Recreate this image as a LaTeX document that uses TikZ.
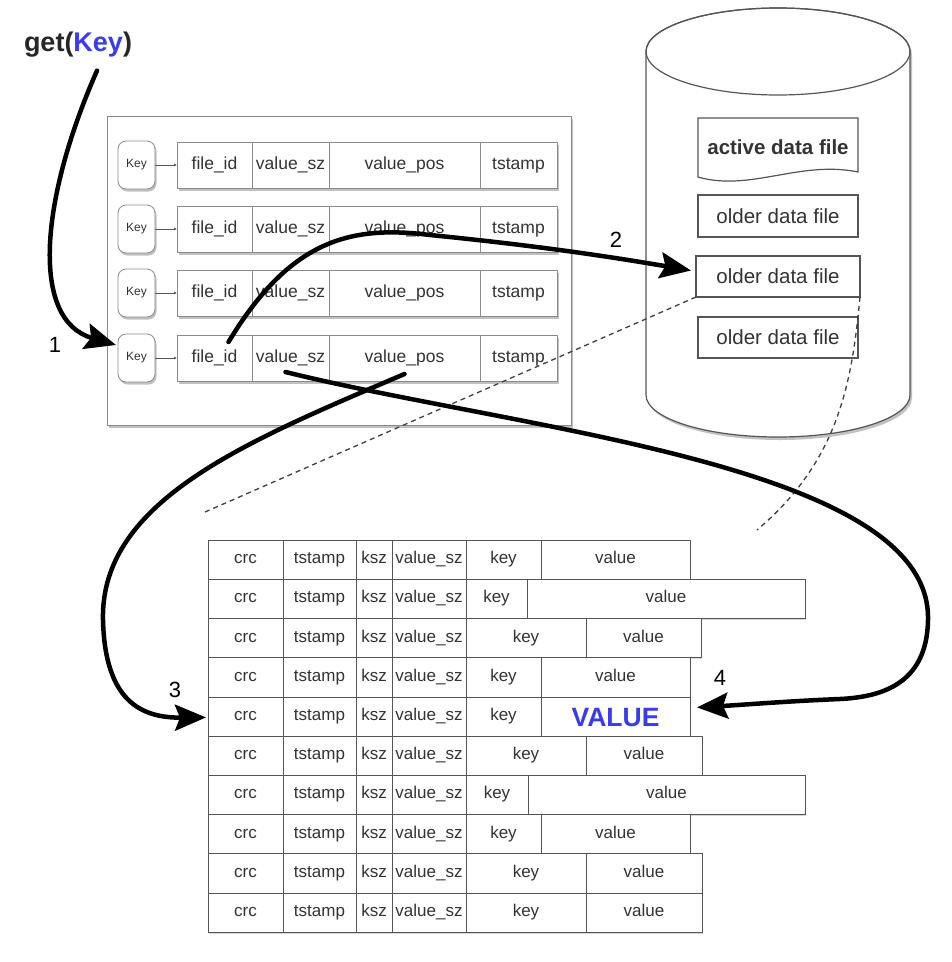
\documentclass[tikz,border=0pt]{standalone}
\usepackage{fontspec}
\setmainfont{Liberation Sans}
\usetikzlibrary{arrows.meta,shadows,calc}
\definecolor{bord}{HTML}{555555}
\definecolor{lbord}{HTML}{8A8A8A}
\definecolor{txt}{HTML}{333333}
\definecolor{kblue}{HTML}{3A3AF0}
\newcommand\drow[4]{%
  \pgfmathsetmacro\drY{540+39.2*(#1-1)}%
  \pgfmathsetmacro\drK{#2-466}%
  \pgfmathsetmacro\drV{#3-#2}%
  \path[rowbg] (208,\drY) rectangle (#3,{\drY+39.2});
  \node[dcell,minimum width=75] (d#1a) at (208,\drY) {crc};
  \node[dcell,minimum width=73] (d#1b) at (283,\drY) {tstamp};
  \node[dcell,minimum width=36] (d#1c) at (356,\drY) {ksz};
  \node[dcell,minimum width=74] (d#1d) at (392,\drY) {value\_sz};
  \node[dcell,minimum width=\drK] (d#1e) at (466,\drY) {key};
  \node[dcell,minimum width=\drV] (d#1f) at (#2,\drY) {#4};
}
\begin{document}
\begin{tikzpicture}[x=1pt,y=-1pt,
  every node/.style={inner sep=0pt,outer sep=0pt},
  shad/.style={drop shadow={shadow xshift=1.5pt,shadow yshift=-2.5pt,opacity=0.4,fill=black!60}},
  kcell/.style={draw=lbord,line width=0.8pt,minimum height=46,anchor=north west,text=txt,
     font=\fontsize{17.5}{20}\selectfont,text height=13pt,text depth=4pt},
  recbg/.style={fill=white,shad},
  keybox/.style={draw=lbord,line width=0.8pt,rounded corners=8pt,minimum width=37,minimum height=48,
     fill=white,shad,text=txt,font=\fontsize{12}{14}\selectfont},
  dcell/.style={draw=bord,line width=0.6pt,minimum height=39.2,anchor=north west,text=txt,
     font=\fontsize{17}{20}\selectfont,text height=12pt,text depth=4pt},
  rowbg/.style={fill=white,drop shadow={shadow xshift=1pt,shadow yshift=-1.5pt,opacity=0.25,fill=black!60}},
  ofile/.style={draw=bord,line width=1.2pt,fill=white,text=txt,font=\fontsize{20.5}{24}\selectfont},
  bigarrow/.style={line width=4.5pt,line cap=round,-{Stealth[length=31pt,width=26pt,inset=5pt]}},
  dashln/.style={draw=black!75,line width=1.3pt,dash pattern=on 5pt off 4pt},
  numlab/.style={font=\fontsize{22}{26}\selectfont,text=black}
]
\useasboundingbox[fill=white] (0,0) rectangle (952,962);

% get(Key)
\node[anchor=west,font=\bfseries\fontsize{27}{30}\selectfont,text=black!85] (get) at (24,45) {get(\textcolor{kblue}{Key})};

% keydir
\node[draw=lbord,line width=1pt,fill=white,shad,minimum width=464,minimum height=309,anchor=north west] (kd) at (107,116) {};
\foreach \i/\y in {1/142,2/206,3/270,4/335}{
  \path[recbg] (177,\y) rectangle (557,{\y+46});
  \node[kcell,minimum width=75] (f\i) at (177,\y) {file\_id};
  \node[kcell,minimum width=77] (s\i) at (252,\y) {value\_sz};
  \node[kcell,minimum width=151] (p\i) at (329,\y) {value\_pos};
  \node[kcell,minimum width=77] (t\i) at (480,\y) {tstamp};
  \node[keybox] (k\i) at (136.5,{\y+23}) {Key};
  \draw[bord,line width=0.8pt,-{Latex[length=3pt,width=3pt]}] (k\i.east) -- (f\i.west);
}

% cylinder
\path[draw=bord,line width=1.2pt,fill=white,drop shadow={shadow xshift=2pt,shadow yshift=-3pt,opacity=0.4,fill=black!60}]
  (646,51.5) -- (646,395) arc[start angle=180,end angle=0,x radius=132,y radius=42]
  -- (910,51.5) arc[start angle=0,end angle=-180,x radius=132,y radius=43.5] -- cycle;
\draw[bord,line width=1.2pt] (778,51.5) ellipse[x radius=132,y radius=43.5];
\path[draw=bord,line width=1.2pt,fill=white] (698,118) -- (858,118) -- (858,172)
  .. controls (800,160) and (750,192) .. (698,177) -- cycle;
\node[text=txt,font=\bfseries\fontsize{20.5}{24}\selectfont] (act) at (778,147) {active data file};
\node[ofile,minimum width=160,minimum height=42] (o1) at (778,216) {older data file};
\node[ofile,minimum width=164,minimum height=41] (o2) at (778,276.5) {older data file};
\node[ofile,minimum width=160,minimum height=41] (o3) at (778,337.5) {older data file};

% data file records
\drow{1}{541}{690}{value}
\drow{2}{527}{805}{value}
\drow{3}{586}{701}{value}
\drow{4}{541}{690}{value}
\drow{5}{541}{690}{\raisebox{-6pt}{\textcolor{kblue}{\bfseries\fontsize{26.5}{30}\selectfont VALUE}}}
\drow{6}{586}{702}{value}
\drow{7}{528}{805}{value}
\drow{8}{541}{690}{value}
\drow{9}{586}{702}{value}
\drow{10}{586}{702}{value}

% dashed zoom lines
\coordinate (dl) at (205,512);
\coordinate (dr) at (757,530);
\draw[dashln] (o2.south west) -- (dl);
\draw[dashln] (o2.south east) .. controls (852,380) and (840,460) .. (dr);

% arrows
\draw[bigarrow] ($(get.south)+(19,13)$) .. controls (40,200) and (30,320) .. ($(k4.west)+(-2,-13)$);
\draw[bigarrow] ($(f4.center)+(14,-16)$) .. controls (290,240) and (350,225) .. (430,235)
   .. controls (530,245) and (600,255) .. ($(o2.west)+(-5,-6)$);
\draw[bigarrow] ($(p4.south)+(0,-7)$) .. controls (250,440) and (100,500) .. (103,620)
   .. controls (105,700) and (140,718) .. ($(d5a.west)+(-2,1)$);
\draw[bigarrow] ($(s4.south)+(-5,-9)$) .. controls (520,430) and (932,465) .. (928,620)
   .. controls (927,685) and (880,697) .. (840,699)
   .. controls (790,701) and (740,705) .. ($(d5f.east)+(7,-9)$);

% step labels
\node[numlab] (n1) at (55,345) {1};
\node[numlab] (n2) at (616,240) {2};
\node[numlab] (n3) at (175,690) {3};
\node[numlab] (n4) at (720,678) {4};
\end{tikzpicture}
\end{document}
